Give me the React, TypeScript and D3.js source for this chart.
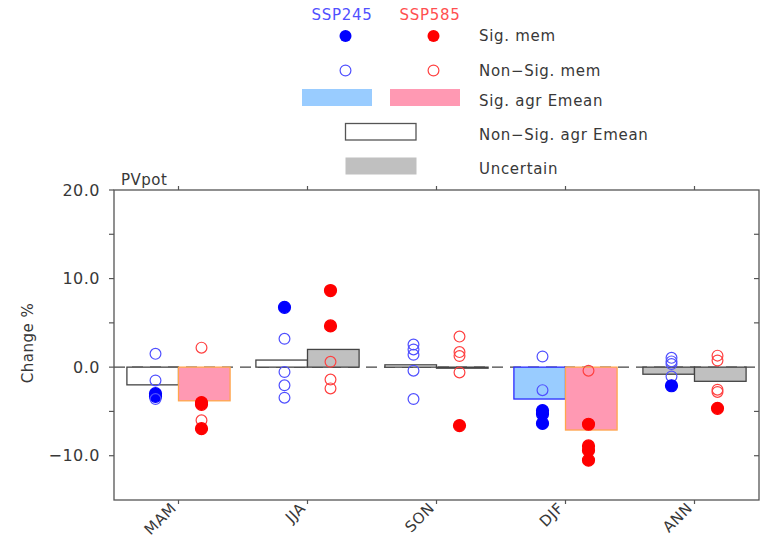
import React from 'react';
import * as d3 from 'd3';

const seasons = ['MAM', 'JJA', 'SON', 'DJF', 'ANN'];

// ensemble-mean change (%) and its agreement class
const mean245 = [-2.0, 0.8, 0.26, -3.6, -0.8];
const mean585 = [-3.8, 2.0, -0.12, -7.1, -1.6];
const agree245 = ['nonsig', 'nonsig', 'nonsig', 'sig', 'uncertain'];
const agree585 = ['sig', 'uncertain', 'nonsig', 'sig', 'uncertain'];

// individual members
const mem245 = [
  [1.5, -1.5, -3.0, -3.3, -3.6],
  [6.75, 3.2, -0.55, -2.05, -3.45],
  [2.55, 2.0, 1.4, -0.4, -3.6],
  [1.2, -2.6, -4.9, -5.3, -6.35],
  [1.05, 0.65, 0.35, -1.05, -2.1],
];
const sig245 = [
  [0, 0, 1, 1, 0],
  [1, 0, 0, 0, 0],
  [0, 0, 0, 0, 0],
  [0, 0, 1, 1, 1],
  [0, 0, 0, 0, 1],
];
const mem585 = [
  [2.2, -4.0, -4.2, -6.0, -6.95],
  [8.65, 4.65, 0.6, -1.4, -2.4],
  [3.45, 1.7, 1.25, -0.6, -6.6],
  [-0.4, -6.45, -8.9, -9.4, -10.5],
  [1.3, 0.75, -2.55, -2.8, -4.65],
];
const sig585 = [
  [0, 1, 1, 0, 1],
  [1, 1, 0, 0, 0],
  [0, 0, 0, 0, 1],
  [0, 1, 1, 1, 1],
  [0, 0, 0, 0, 1],
];

const yTicks = [20, 10, 0, -10];
const yMinor = [15, 5, -5];

const W = 771;
const H = 538;
const left = 114;
const right = 759;
const top = 190;
const bottom = 500;

const axisCol = '#555';
const textCol = '#383838';
const font = "'DejaVu Sans', sans-serif";

const fills = {
  '245': { sig: '#99ccff', nonsig: '#ffffff', uncertain: '#c0c0c0' },
  '585': { sig: '#ff99b3', nonsig: '#ffffff', uncertain: '#c0c0c0' },
};
const strokes = {
  '245': { sig: '#2a2aff', nonsig: '#444', uncertain: '#444' },
  '585': { sig: '#ffa64d', nonsig: '#444', uncertain: '#444' },
};

export default function App() {
  const x = d3.scaleBand().domain(seasons).range([left, right]);
  const y = d3.scaleLinear().domain([-15, 20]).range([bottom, top]);
  const bw = x.bandwidth() * 0.4;
  const cx = (s) => x(s) + x.bandwidth() / 2;
  const r = 6;

  const bar = (s, v, cls, sc) => (
    <rect
      key={sc + s}
      x={sc === '245' ? cx(s) - bw : cx(s)}
      y={Math.min(y(v), y(0))}
      width={bw}
      height={Math.max(Math.abs(y(v) - y(0)), 1)}
      fill={fills[sc][cls]}
      stroke={strokes[sc][cls]}
      strokeWidth={1.3}
    />
  );

  const dots = (s, vals, sig, sc) =>
    vals.map((v, j) => {
      const px = sc === '245' ? cx(s) - 23 : cx(s) + 23;
      const filled = sig[j] === 1;
      const full = sc === '245' ? '#0000ff' : '#ff0000';
      const light = sc === '245' ? '#5050ff' : '#ff4040';
      return (
        <circle
          key={sc + s + j}
          cx={px}
          cy={y(v)}
          r={filled ? r : r - 0.6}
          fill={filled ? full : 'none'}
          stroke={filled ? full : light}
          strokeWidth={1.2}
        />
      );
    });

  const legendText = { fontFamily: font, fontSize: 15, fill: textCol, letterSpacing: 0.7 };

  return (
    <svg width={W} height={H} style={{ position: 'absolute', left: 0, top: 0, background: '#fff' }}>
      {/* legend */}
      <text x={342} y={20} textAnchor="middle" style={{ ...legendText, fill: '#5050ff' }}>SSP245</text>
      <text x={430} y={20} textAnchor="middle" style={{ ...legendText, fill: '#ff5050' }}>SSP585</text>
      <circle cx={345.5} cy={36} r={r} fill="#0000ff" />
      <circle cx={433.5} cy={36} r={r} fill="#ff0000" />
      <text x={479} y={41} style={legendText}>Sig. mem</text>
      <circle cx={345.5} cy={70.5} r={r - 0.6} fill="none" stroke="#5050ff" strokeWidth={1.2} />
      <circle cx={433.5} cy={70.5} r={r - 0.6} fill="none" stroke="#ff4040" strokeWidth={1.2} />
      <text x={479} y={76} style={legendText}>Non−Sig. mem</text>
      <rect x={302} y={89} width={70} height={17} fill="#99ccff" />
      <rect x={390} y={89} width={70} height={17} fill="#ff99b3" />
      <text x={479} y={106} style={legendText}>Sig. agr Emean</text>
      <rect x={345.5} y={123.5} width={70.5} height={16.5} fill="#fff" stroke="#555" strokeWidth={1.3} />
      <text x={479} y={140} style={legendText}>Non−Sig. agr Emean</text>
      <rect x={345.5} y={157.5} width={71} height={17} fill="#c0c0c0" />
      <text x={479} y={174} style={legendText}>Uncertain</text>

      {/* zero line */}
      <line x1={left} x2={right} y1={y(0)} y2={y(0)} stroke="#444" strokeWidth={1.2} strokeDasharray="11,7" />

      {/* bars */}
      {seasons.map((s, i) => bar(s, mean245[i], agree245[i], '245'))}
      {seasons.map((s, i) => bar(s, mean585[i], agree585[i], '585'))}

      {/* members */}
      {seasons.map((s, i) => dots(s, mem245[i], sig245[i], '245'))}
      {seasons.map((s, i) => dots(s, mem585[i], sig585[i], '585'))}

      {/* frame */}
      <rect x={left} y={top} width={right - left} height={bottom - top} fill="none" stroke={axisCol} strokeWidth={1.3} />
      {[...yTicks, ...yMinor].map((t) => (
        <g key={'yt' + t}>
          <line x1={left - 5} x2={left} y1={y(t)} y2={y(t)} stroke={axisCol} strokeWidth={1.2} />
          {t !== 0 && t !== 20 && (
            <line x1={right - 5} x2={right} y1={y(t)} y2={y(t)} stroke={axisCol} strokeWidth={1.2} />
          )}
        </g>
      ))}
      {yTicks.map((t) => (
        <text
          key={'yl' + t}
          x={100}
          y={y(t)}
          dy="0.36em"
          textAnchor="end"
          style={{ fontFamily: font, fontSize: 16, fill: textCol, letterSpacing: 0.5 }}
        >
          {t < 0 ? '−' + Math.abs(t).toFixed(1) : t.toFixed(1)}
        </text>
      ))}
      {seasons.map((s) => (
        <g key={'xt' + s}>
          <line x1={cx(s)} x2={cx(s)} y1={top - 4} y2={top} stroke={axisCol} strokeWidth={1.2} />
          <line x1={cx(s)} x2={cx(s)} y1={bottom} y2={bottom + 4} stroke={axisCol} strokeWidth={1.2} />
          <text
            transform={`translate(${cx(s) - 9},${bottom + 1}) rotate(-45)`}
            dy="0.75em"
            textAnchor="end"
            style={{ fontFamily: font, fontSize: 15, fill: textCol, letterSpacing: 0.6 }}
          >
            {s}
          </text>
        </g>
      ))}
      <text x={121} y={185} style={{ fontFamily: font, fontSize: 15, fill: textCol, letterSpacing: 0.5 }}>PVpot</text>
      <text
        transform={`translate(33,${343}) rotate(-90)`}
        textAnchor="middle"
        style={{ fontFamily: font, fontSize: 15, fill: textCol, letterSpacing: 0.5 }}
      >
        Change %
      </text>
    </svg>
  );
}
